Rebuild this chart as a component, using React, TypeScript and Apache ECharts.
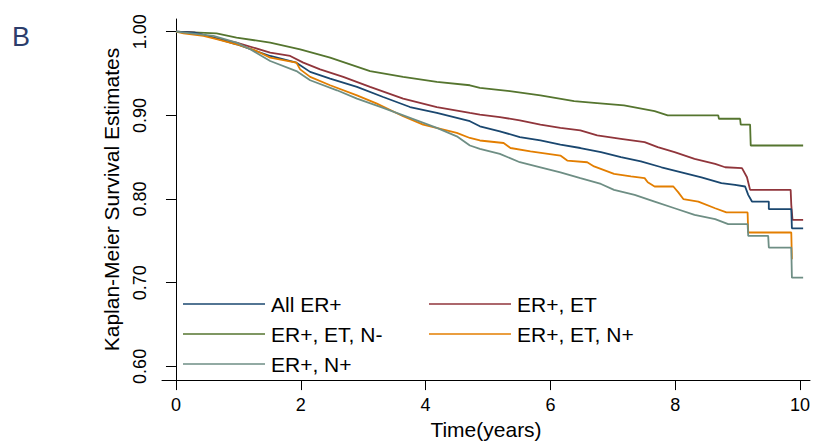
import React, { useEffect, useRef } from "react";
import * as echarts from "echarts";

const FONT = "'Liberation Sans', Arial, sans-serif";

const xTicks = [0, 2, 4, 6, 8, 10];
const yTicks = [0.6, 0.7, 0.8, 0.9, 1.0];

const seriesNames = ["All ER+", "ER+, ET", "ER+, ET, N-", "ER+, ET, N+", "ER+, N+"];
const seriesColors = ["#1a476f", "#90353b", "#55752f", "#e37e00", "#6e8e84"];

const allErPlus: number[][] = [
  [0, 1.0], [0.3, 0.999], [0.6, 0.993], [0.97, 0.985], [1.51, 0.971], [1.93, 0.963], [2.15, 0.952],
  [2.47, 0.944], [2.9, 0.934], [3.32, 0.922], [3.75, 0.91], [4.18, 0.903], [4.71, 0.893], [4.87, 0.887],
  [5.19, 0.881], [5.51, 0.874], [5.84, 0.87], [6.16, 0.865], [6.48, 0.861], [6.81, 0.856], [7.13, 0.85],
  [7.45, 0.845], [7.78, 0.838], [8.1, 0.832], [8.42, 0.826], [8.74, 0.819], [8.96, 0.817], [9.12, 0.815],
  [9.17, 0.805], [9.23, 0.797], [9.5, 0.797], [9.5, 0.788], [9.86, 0.788], [9.87, 0.765], [10.05, 0.765],
];

const erEt: number[][] = [
  [0, 1.0], [0.3, 0.999], [0.6, 0.993], [0.97, 0.987], [1.51, 0.975], [1.83, 0.971], [2.04, 0.963],
  [2.31, 0.955], [2.68, 0.946], [3.11, 0.934], [3.64, 0.92], [4.18, 0.91], [4.71, 0.903], [4.87, 0.901],
  [5.19, 0.898], [5.51, 0.894], [5.84, 0.889], [6.16, 0.885], [6.48, 0.882], [6.75, 0.876], [7.13, 0.872],
  [7.51, 0.868], [7.72, 0.862], [7.99, 0.856], [8.31, 0.848], [8.64, 0.842], [8.8, 0.838], [9.07, 0.837],
  [9.15, 0.826], [9.2, 0.811], [9.85, 0.811], [9.86, 0.793], [9.88, 0.775], [10.05, 0.775],
];

const erEtNneg: number[][] = [
  [0, 1.0], [0.65, 0.998], [0.97, 0.993], [1.51, 0.987], [1.99, 0.979], [2.47, 0.969], [3.11, 0.953],
  [3.64, 0.946], [4.18, 0.94], [4.71, 0.936], [4.87, 0.933], [5.35, 0.929], [5.84, 0.924], [6.38, 0.917],
  [6.7, 0.915], [7.18, 0.912], [7.67, 0.905], [7.88, 0.9], [8.69, 0.9], [8.7, 0.896], [9.04, 0.896],
  [9.05, 0.889], [9.2, 0.889], [9.21, 0.864], [10.05, 0.864],
];

const erEtNpos: number[][] = [
  [0, 1.0], [0.12, 0.998], [0.44, 0.995], [0.65, 0.991], [0.97, 0.985], [1.29, 0.977], [1.51, 0.969],
  [1.93, 0.963], [1.99, 0.955], [2.15, 0.946], [2.47, 0.936], [2.9, 0.924], [3.22, 0.914], [3.64, 0.899],
  [3.96, 0.889], [4.5, 0.879], [4.71, 0.873], [4.87, 0.87], [5.25, 0.867], [5.36, 0.861], [5.68, 0.857],
  [6.16, 0.852], [6.27, 0.846], [6.59, 0.844], [6.7, 0.839], [7.02, 0.83], [7.29, 0.827], [7.51, 0.825],
  [7.56, 0.82], [7.67, 0.815], [7.97, 0.815], [8.05, 0.808], [8.13, 0.8], [8.37, 0.797], [8.64, 0.789],
  [8.82, 0.784], [9.16, 0.784], [9.17, 0.76], [9.86, 0.76], [9.87, 0.728],
];

const erNpos: number[][] = [
  [0, 1.0], [0.6, 0.995], [0.97, 0.987], [1.19, 0.979], [1.51, 0.965], [1.93, 0.953], [2.15, 0.942],
  [2.58, 0.93], [2.9, 0.92], [3.32, 0.909], [3.75, 0.897], [4.18, 0.885], [4.5, 0.875], [4.71, 0.864],
  [4.87, 0.86], [5.19, 0.854], [5.51, 0.844], [5.84, 0.838], [6.16, 0.832], [6.48, 0.825], [6.81, 0.818],
  [7.02, 0.811], [7.35, 0.805], [7.67, 0.797], [7.99, 0.789], [8.31, 0.781], [8.64, 0.776], [8.85, 0.77],
  [9.16, 0.77], [9.17, 0.756], [9.49, 0.756], [9.5, 0.742], [9.86, 0.742], [9.87, 0.706], [10.05, 0.706],
];

const seriesData = [allErPlus, erEt, erEtNneg, erEtNpos, erNpos];
const drawOrder = [2, 1, 0, 3, 4];

export default function App() {
  const ref = useRef<HTMLDivElement>(null);
  useEffect(() => {
    if (!ref.current) return;
    const chart = echarts.init(ref.current, undefined, { renderer: "svg" });
    const legendText = { fontFamily: FONT, fontSize: 21, color: "#000", lineHeight: 22, padding: [0, 0, 0, 1] };
    const legendCommon = {
      orient: "vertical" as const,
      itemWidth: 82,
      itemHeight: 1.6,
      itemGap: 8,
      icon: "rect",
      textStyle: legendText,
      selectedMode: false,
    };
    chart.setOption({
      animation: false,
      backgroundColor: "#fff",
      textStyle: { fontFamily: FONT },
      grid: { left: 162, right: 6, top: 19, bottom: 58 },
      graphic: [
        {
          type: "text",
          left: 12,
          top: 23,
          style: { text: "B", fontFamily: FONT, fontSize: 27, fill: "#2c3d6b" },
        },
      ],
      legend: [
        { ...legendCommon, left: 178, top: 288, data: [seriesNames[0], seriesNames[2], seriesNames[4]] },
        { ...legendCommon, left: 424, top: 288, data: [seriesNames[1], seriesNames[3]] },
      ],
      xAxis: {
        type: "value",
        min: -0.224,
        max: 10.16,
        name: "Time(years)",
        nameLocation: "middle",
        nameGap: 35,
        nameTextStyle: { fontFamily: FONT, fontSize: 21, color: "#000" },
        axisLine: { show: true, lineStyle: { color: "#000", width: 1 } },
        axisTick: { show: true, length: 10, customValues: xTicks, lineStyle: { color: "#000" } },
        axisLabel: { customValues: xTicks, fontFamily: FONT, fontSize: 18, color: "#000", margin: 16 },
        splitLine: { show: false },
      },
      yAxis: {
        type: "value",
        min: 0.5836,
        max: 1.0152,
        name: "Kaplan-Meier Survival Estimates",
        nameLocation: "middle",
        nameRotate: 90,
        nameGap: 40,
        nameTextStyle: { fontFamily: FONT, fontSize: 21, color: "#000" },
        axisLine: { show: true, lineStyle: { color: "#000", width: 1 } },
        axisTick: { show: true, length: 10, customValues: yTicks, lineStyle: { color: "#000" } },
        axisLabel: {
          customValues: yTicks,
          rotate: 90,
          fontFamily: FONT,
          fontSize: 18,
          color: "#000",
          margin: 13,
          formatter: (v: number) => v.toFixed(2),
        },
        splitLine: { show: false },
      },
      series: drawOrder.map((i) => ({
        name: seriesNames[i],
        type: "line",
        data: seriesData[i],
        showSymbol: false,
        symbol: "none",
        color: seriesColors[i],
        lineStyle: { color: seriesColors[i], width: 1.8 },
        z: 2 + drawOrder.indexOf(i),
      })),
    });
    return () => chart.dispose();
  }, []);
  return (
    <div
      ref={ref}
      style={{ position: "fixed", left: 0, top: 0, width: 816, height: 445, background: "#fff" }}
    />
  );
}
